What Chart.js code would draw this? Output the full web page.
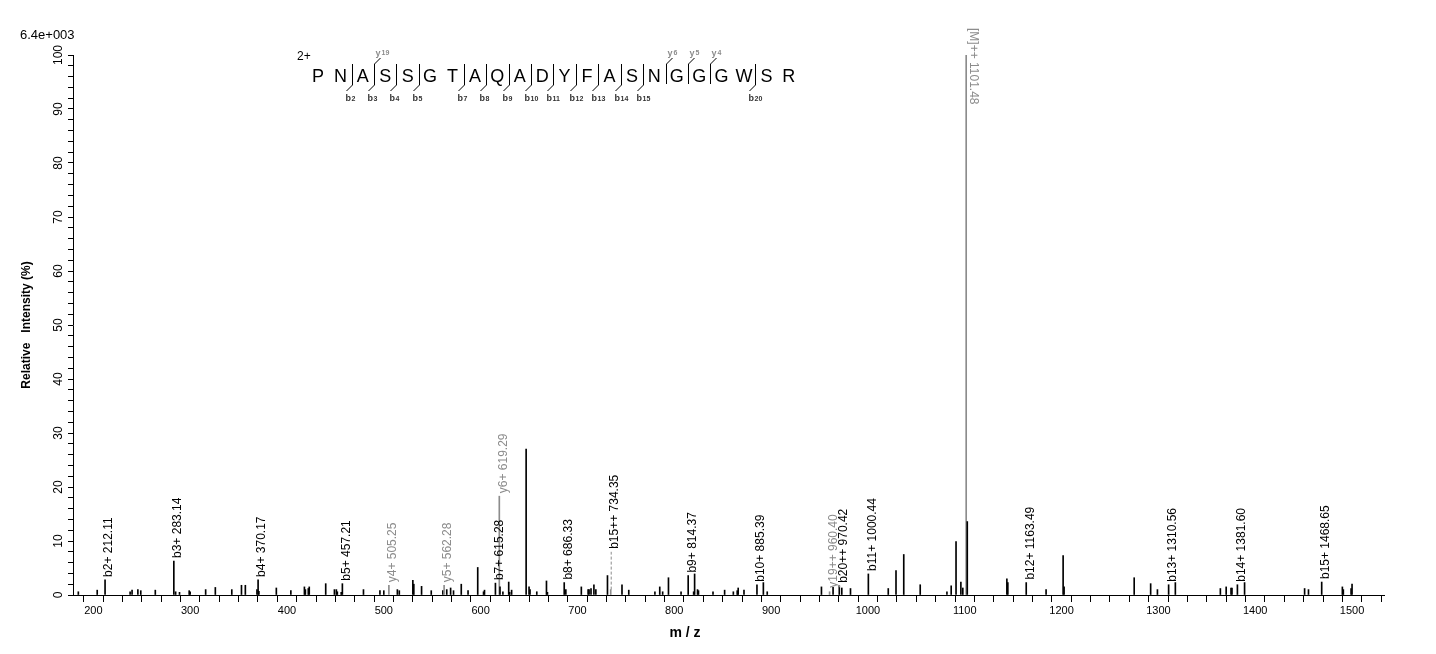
<!DOCTYPE html>
<html><head><meta charset="utf-8">
<script src="https://cdn.jsdelivr.net/npm/chart.js@4.4.1/dist/chart.umd.min.js"></script>
<style>html,body{margin:0;padding:0;background:#fff}#w{width:1436px;height:654px}</style>
</head><body><div id="w"><canvas id="c" width="1436" height="654"></canvas></div>
<script>
const peakMz = [184.5,204,212.11,238,240,246,249,264,283.14,285,289,299,300,316,326,343,353,357,369,370.17,371,389,404,418,419,422,423,440,449,451,452,456,457.21,479,496,500,505.25,514,516,530,531,539,549,561,562.28,565,569,572,580,587,597,603,604,615.28,619.29,620,623,629,630,632,647,650,651,658,668,669,686.33,688,704,711,712,714,717,719,731,734.35,746,753,780,785,788,794,807,814.37,820,821,824,825,840,852,861,865,866,872,885.39,892,896,952,960.40,964,970.42,973,982,1000.44,1021,1029,1037,1054,1081.6,1086,1091,1096,1098,1101.48,1102.6,1143.5,1144.5,1163.49,1184,1201.6,1202.6,1275,1292,1299,1310.56,1317.5,1364,1370,1375,1376,1381.60,1389,1451,1455,1468.65,1490,1491,1499,1500];
const peakInt = [0.6,0.9,2.8,0.6,0.9,1.0,0.8,0.9,6.3,0.6,0.5,0.8,0.6,1.0,1.4,1.0,1.8,1.8,1.0,2.8,0.7,1.3,0.8,1.5,1.0,1.2,1.5,2.1,1.0,1.0,0.6,0.5,2.1,1.0,0.8,0.8,1.8,1.0,0.8,2.7,2.0,1.6,0.8,0.8,1.8,1.0,1.3,0.8,2.0,0.8,5.1,0.6,0.9,2.2,18.3,1.5,0.6,2.4,0.5,0.9,27.0,1.5,1.0,0.6,2.6,0.5,2.3,1.0,1.5,1.0,1.0,1.2,1.9,1.0,3.6,1.0,1.9,0.9,0.6,1.5,0.6,3.2,0.6,3.6,0.6,3.9,1.0,0.8,0.6,0.9,0.6,0.8,1.3,0.9,1.9,2.3,0.6,1.5,0.6,1.4,1.7,1.3,1.2,3.9,1.2,4.5,7.5,1.9,0.6,1.7,9.9,2.4,1.3,100,13.6,3.0,2.3,2.3,1.0,7.3,1.5,3.2,2.1,1.0,1.9,2.3,1.2,1.5,1.3,1.3,1.9,2.3,1.2,1.0,2.4,1.5,1.0,1.2,2.0];
const grayPeakMz = [505.25,562.28,619.29,734.35,960.40,1101.48];
const ionLabels = ['b2+ 212.11','b3+ 283.14','b4+ 370.17','b5+ 457.21','y4+ 505.25','y5+ 562.28','b7+ 615.28','y6+ 619.29','b8+ 686.33','b15++ 734.35','b9+ 814.37','b10+ 885.39','y19++ 960.40','b20++ 970.42','b11+ 1000.44','b12+ 1163.49','b13+ 1310.56','b14+ 1381.60','b15+ 1468.65'];
const ionMz = [212.11,283.14,370.17,457.21,505.25,562.28,615.28,619.29,686.33,734.35,814.37,885.39,960.40,970.42,1000.44,1163.49,1310.56,1381.60,1468.65];
const ionInt = [2.8,6.3,2.8,2.1,1.8,1.8,2.2,18.3,2.3,8.0,3.6,1.9,0.8,1.7,3.9,2.3,1.9,1.9,2.4];
const ionType = ['b','b','b','b','y','y','b','y','b','b','b','b','y','b','b','b','b','b','b'];
const precursorLabel = '[M]++ 1101.48';
const sequence = ['P','N','A','S','S','G','T','A','Q','A','D','Y','F','A','S','N','G','G','G','W','S','R'];
const bCuts = [2,3,4,5,7,8,9,10,11,12,13,14,15,20];
const yCuts = [19,6,5,4];
const xTickStep = 20, yTickStep = 2;

const FONT = '"Liberation Sans", Arial, sans-serif';
const GRAY = '#8c8c8c';
const data = peakMz.map((m,i)=>({x:m,y:peakInt[i]}));
const colors = peakMz.map(m=>grayPeakMz.includes(m)?GRAY:'#000');

const overlay = {
  id:'overlay',
  afterDatasetsDraw(chart){
    const ctx=chart.ctx, xs=chart.scales.x, ys=chart.scales.y;
    ctx.save();
    ctx.fillStyle='#000'; ctx.font='12px '+FONT; ctx.textAlign='center'; ctx.textBaseline='middle';
    for(let v=0; v<=100; v+=10){
      const py=ys.getPixelForValue(v);
      ctx.save(); ctx.translate(59,py); ctx.rotate(-Math.PI/2); ctx.fillText(String(v),0,0); ctx.restore();
    }
    ctx.font='bold 12px '+FONT;
    ctx.save(); ctx.translate(27,(ys.top+ys.bottom)/2); ctx.rotate(-Math.PI/2); ctx.fillText('Relative   Intensity (%)',0,0); ctx.restore();
    ctx.font='bold 14px '+FONT;
    ctx.fillText('m / z', 685, 633);
    ctx.font='13px '+FONT; ctx.textAlign='left';
    ctx.fillText('6.4e+003',20,35);
    ctx.font='12px '+FONT;
    ionLabels.forEach((t,i)=>{
      const px=xs.getPixelForValue(ionMz[i]), py=ys.getPixelForValue(ionInt[i]);
      ctx.fillStyle = ionType[i]==='y'?GRAY:'#000';
      if(t.startsWith('b15++')){
        ctx.strokeStyle=GRAY; ctx.setLineDash([3,2]); ctx.lineWidth=1;
        ctx.beginPath(); ctx.moveTo(px+0.5,ys.getPixelForValue(1.0)); ctx.lineTo(px+0.5,py); ctx.stroke(); ctx.setLineDash([]);
      }
      ctx.save(); ctx.translate(px+4,py-3); ctx.rotate(-Math.PI/2); ctx.textAlign='left'; ctx.textBaseline='middle'; ctx.fillText(t,0,0); ctx.restore();
    });
    { const px=xs.getPixelForValue(1101.48);
      ctx.fillStyle=GRAY; ctx.save(); ctx.translate(px+7,28); ctx.rotate(Math.PI/2); ctx.textAlign='left'; ctx.textBaseline='middle'; ctx.fillText(precursorLabel,0,0); ctx.restore(); }
    const x0=318, dx=22.42, by=82;
    ctx.fillStyle='#000'; ctx.font='12px '+FONT; ctx.textAlign='left'; ctx.textBaseline='alphabetic';
    ctx.fillText('2+',297,60);
    ctx.font='18px '+FONT; ctx.textAlign='center';
    sequence.forEach((c,i)=>ctx.fillText(c,x0+i*dx,by));
    ctx.lineWidth=1;
    const cutX=k=>Math.round(x0+(k-0.5)*dx)+0.5;
    bCuts.forEach(k=>{
      const cx=cutX(k);
      ctx.strokeStyle='#000';
      ctx.beginPath(); ctx.moveTo(cx,64); ctx.lineTo(cx,85); ctx.lineTo(cx-6,91); ctx.stroke();
      ctx.fillStyle='#333'; ctx.textAlign='left';
      ctx.font='bold 9px '+FONT; ctx.fillText('b',cx-7,101);
      ctx.font='bold 7px '+FONT; ctx.fillText(String(k),cx-1,101);
    });
    yCuts.forEach(n=>{
      const k=sequence.length-n, cx=cutX(k);
      ctx.strokeStyle='#000';
      ctx.beginPath(); ctx.moveTo(cx,84); ctx.lineTo(cx,64); ctx.lineTo(cx+6,58); ctx.stroke();
      ctx.fillStyle=GRAY; ctx.textAlign='left';
      ctx.font='bold 9px '+FONT; ctx.fillText('y',cx+1,56);
      ctx.font='bold 7px '+FONT; ctx.fillText(String(n),cx+7,55);
    });
    ctx.restore();
  }
};

new Chart(document.getElementById('c'),{
  type:'bar',
  data:{datasets:[{data, backgroundColor:colors, borderWidth:0, barThickness:1, grouped:false}]},
  options:{
    responsive:false, animation:false,
    layout:{padding:{left:0,top:55,right:52,bottom:0}},
    plugins:{legend:{display:false},tooltip:{enabled:false}},
    scales:{
      x:{type:'linear',min:179,max:1533,offset:false,
        afterBuildTicks(s){ s.ticks=[]; for(let v=180; v<=1520; v+=xTickStep) s.ticks.push({value:v}); },
        afterFit(s){ s.height=59; },
        border:{color:'#000',width:1},
        grid:{display:true,drawOnChartArea:false,drawTicks:true,tickLength:7,color:'#000'},
        ticks:{autoSkip:false,maxRotation:0,color:'#000',font:{size:11,family:FONT},padding:2,
          callback:v=>v%100===0?String(v):''}},
      y:{min:0,max:100,
        afterBuildTicks(s){ s.ticks=[]; for(let v=0; v<=100; v+=yTickStep) s.ticks.push({value:v}); },
        afterFit(s){ s.width=73; },
        border:{color:'#000',width:1},
        grid:{display:true,drawOnChartArea:false,drawTicks:true,tickLength:5,color:'#000'},
        ticks:{display:false}}
    }
  },
  plugins:[overlay]
});
</script></body></html>
